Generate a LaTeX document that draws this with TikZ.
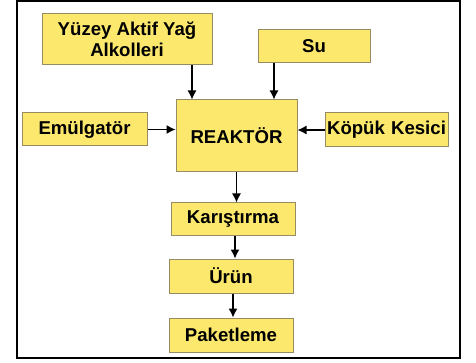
\documentclass[tikz,border=0pt]{standalone}
\usepackage{fontspec}
\setmainfont{Liberation Sans}
\usepackage{tikz}
\usetikzlibrary{positioning,calc}
\usetikzlibrary{arrows.meta}
\definecolor{boxyellow}{RGB}{252,232,108}
\definecolor{boxedge}{RGB}{150,140,100}
\begin{document}
\begin{tikzpicture}[x=1pt,y=-1pt,
    every node/.style={font=\fontsize{18.6}{20.5}\selectfont\bfseries},
    unit/.style={rectangle,draw=boxedge,line width=1pt,fill=boxyellow,inner sep=0pt,align=center},
    flow/.style={draw,line width=1.2pt,-{Latex[length=9pt,width=9pt]}}]
	\useasboundingbox (0,0) rectangle (476,363);
	\draw[line width=2pt] (17,1) rectangle (460,358);
	\node[unit,minimum width=170pt,minimum height=51pt] (yaf) at (127,39.5) {Yüzey Aktif Yağ\\Alkolleri};
	\node[unit,minimum width=112pt,minimum height=33pt] (su) at (314,46.5) {Su};
	\node[unit,minimum width=121pt,minimum height=72pt] (reaktor) at (236.5,136) {REAKTÖR};
	\node[unit,minimum width=125pt,minimum height=33pt] (emul) at (84.5,129.5) {Emülgatör};
	\node[unit,minimum width=123pt,minimum height=34pt,text width=123pt] (kopuk) at (386.5,130) {Köpük Kesici};
	\node[unit,minimum width=124pt,minimum height=33pt] (kar) at (233,219.5) {Karıştırma};
	\node[unit,minimum width=124pt,minimum height=34pt] (urun) at (231,276) {Ürün};
	\node[unit,minimum width=124pt,minimum height=34pt] (paket) at (231,335) {Paketleme};
	% girdiler
	\draw[flow] ([xshift=65pt]yaf.south) -- ([xshift=65pt]yaf.south |- reaktor.north);
	\draw[flow] ([xshift=-40pt]su.south) -- ([xshift=-40pt]su.south |- reaktor.north);
	\draw[flow] (emul.east) -- (emul.east -| reaktor.west);
	\draw[flow] (kopuk.west) -- (kopuk.west -| reaktor.east);
	% akis
	\draw[flow] (reaktor.south) -- (reaktor.south |- kar.north);
	\draw[flow] ([xshift=2pt]kar.south) -- ([xshift=2pt]kar.south |- urun.north);
	\draw[flow] ([xshift=2pt]urun.south) -- ([xshift=2pt]urun.south |- paket.north);
\end{tikzpicture}
\end{document}
